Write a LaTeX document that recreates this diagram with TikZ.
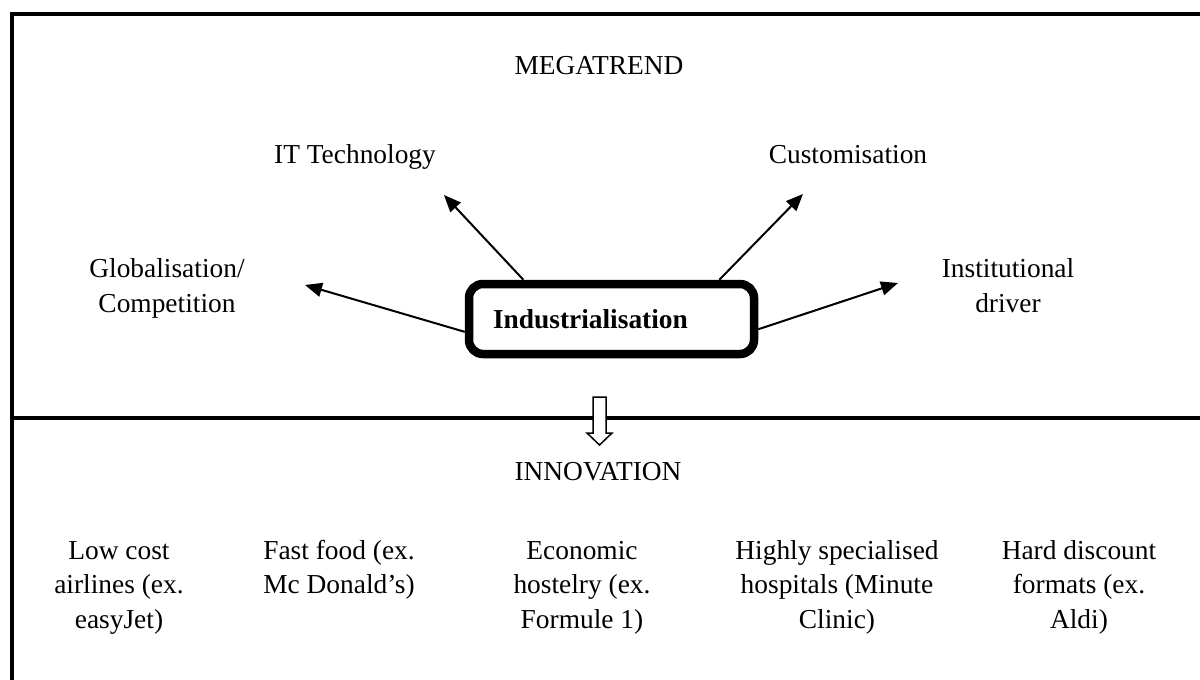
\documentclass[tikz,border=0pt]{standalone}
\usepackage{fontspec}
\setmainfont{Liberation Serif}
\usetikzlibrary{arrows.meta}
\tikzset{trend label/.style={font=\fontsize{13.7}{17.25}\selectfont,align=center,inner sep=0pt,anchor=base},
	frame line/.style={line width=1.9pt},
	trend arrow/.style={line width=1pt,-{Triangle[length=8.5pt,width=7pt]}},
	core box/.style={draw,line width=4.25pt,rounded corners=7pt,minimum width=142.5pt,minimum height=35pt,
		inner xsep=12pt,inner ysep=0pt,text width=118.5pt,align=left,font=\fontsize{13.7}{17.25}\selectfont\bfseries}}

\begin{document}
\begin{tikzpicture}[x=0.5pt,y=-0.5pt]
			\useasboundingbox (0,0) rectangle (1200,680);
			% frame and divider
			\draw[frame line] (1200,14) -- (12,14) -- (12,680);
			\draw[frame line,line width=1.6pt] (12,418) -- (1200,418);
			% upper half (base = last line)
			\node[trend label] (mega) at (599,74) {MEGATREND};
			\node[trend label] (itech) at (355,163) {IT Technology};
			\node[trend label] (custom) at (848,163) {Customisation};
			\node[trend label] (glob) at (167,312) {Globalisation/\\Competition};
			\node[trend label] (inst) at (1008,312) {Institutional\\driver};
			\node[core box] (ind) at (611.5,319) {Industrialisation};
			\coordinate (globtip) at (305,285);
			\coordinate (itechtip) at (444,195);
			\coordinate (customtip) at (803,194);
			\coordinate (insttip) at (898,283);
			\draw[trend arrow] (ind.185) -- (globtip);
			\draw[trend arrow] (ind.156) -- (itechtip);
			\draw[trend arrow] (ind.20) -- (customtip);
			\draw[trend arrow] (ind.-4) -- (insttip);
			% hollow arrow
			\draw[line width=0.75pt,fill=white] (593,397) -- (606,397) -- (606,433) -- (612,433) -- (599.5,445)
				-- (587,433) -- (593,433) -- cycle;
			% lower half
			\node[trend label] (innov) at (598,480) {INNOVATION};
			\node[trend label] (air) at (119,628) {Low cost\\airlines (ex.\\easyJet)};
			\node[trend label] (food) at (339,593.5) {Fast food (ex.\\Mc Donald’s)};
			\node[trend label] (hostel) at (582,628) {Economic\\hostelry (ex.\\Formule 1)};
			\node[trend label] (hosp) at (837,628) {Highly specialised\\hospitals (Minute\\Clinic)};
			\node[trend label] (disc) at (1079,628) {Hard discount\\formats (ex.\\Aldi)};
		\end{tikzpicture}
\end{document}
